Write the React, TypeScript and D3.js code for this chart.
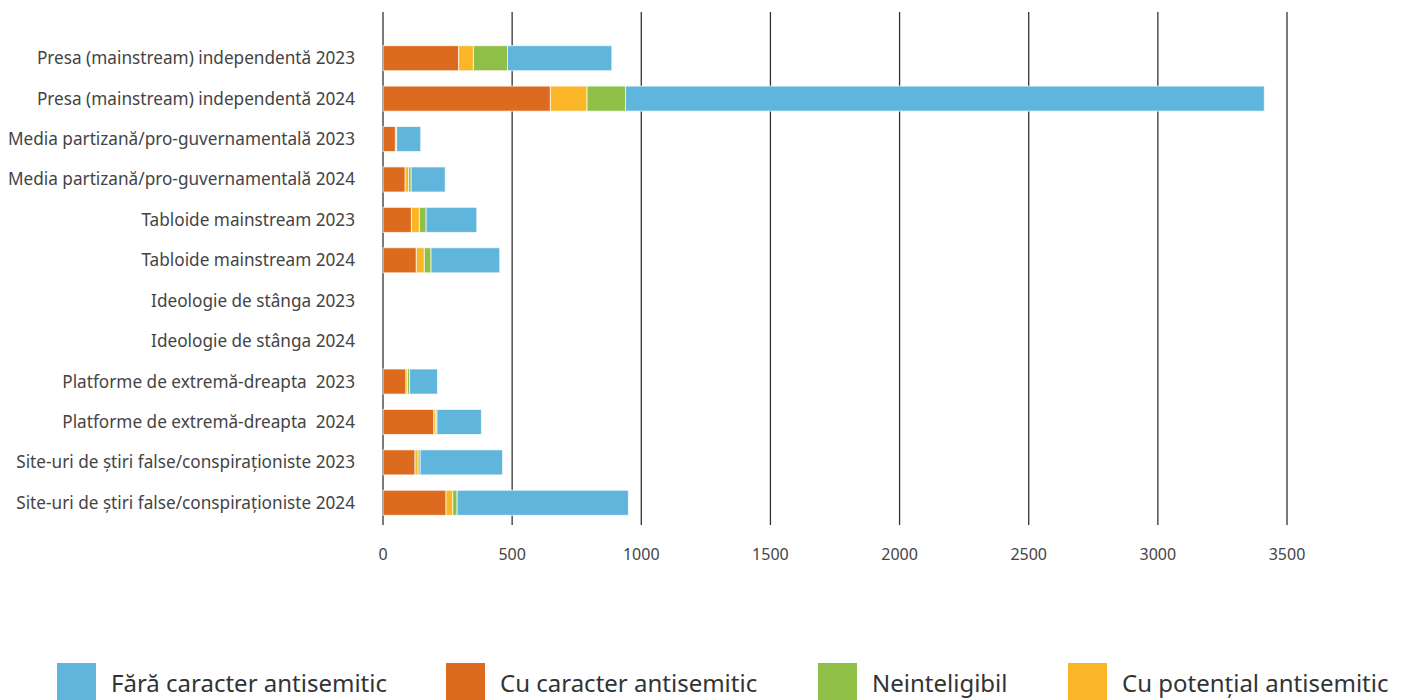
import React from 'react';
import * as d3 from 'd3';

const categories = [
  'Presa (mainstream) independentă 2023',
  'Presa (mainstream) independentă 2024',
  'Media partizană/pro-guvernamentală 2023',
  'Media partizană/pro-guvernamentală 2024',
  'Tabloide mainstream 2023',
  'Tabloide mainstream 2024',
  'Ideologie de stânga 2023',
  'Ideologie de stânga 2024',
  'Platforme de extremă-dreapta  2023',
  'Platforme de extremă-dreapta  2024',
  'Site-uri de știri false/conspiraționiste 2023',
  'Site-uri de știri false/conspiraționiste 2024',
];

// series, in stacking order (left to right)
const cuCaracter = [293, 648, 48, 86, 110, 129, 0, 0, 89, 197, 124, 244];
const cuPotential = [57, 142, 5, 13, 31, 31, 0, 0, 6, 8, 12, 26];
const neinteligibil = [132, 149, 0, 10, 26, 26, 0, 0, 8, 4, 8, 17];
const faraCaracter = [404, 2473, 93, 132, 196, 266, 0, 0, 108, 172, 319, 663];

const xTicks = [0, 500, 1000, 1500, 2000, 2500, 3000, 3500];

const seriesKeys = ['cu', 'pot', 'nei', 'fara'] as const;
const seriesColors: Record<string, string> = {
  cu: '#DC6A1F',
  pot: '#FBB627',
  nei: '#8FBF47',
  fara: '#60B5DD',
};

const legendItems = [
  { key: 'fara', label: 'Fără caracter antisemitic', x: 57 },
  { key: 'cu', label: 'Cu caracter antisemitic', x: 446 },
  { key: 'nei', label: 'Neinteligibil', x: 818 },
  { key: 'pot', label: 'Cu potențial antisemitic', x: 1068 },
];

const font = '"Noto Sans", Lato, sans-serif';

export default function App() {
  const width = 1408;
  const height = 700;

  const rows = categories.map((c, i) => ({
    name: c,
    cu: cuCaracter[i],
    pot: cuPotential[i],
    nei: neinteligibil[i],
    fara: faraCaracter[i],
  }));

  const x = d3.scaleLinear().domain([0, 3500]).range([383, 1287]);
  const y = d3
    .scaleBand()
    .domain(categories)
    .range([38, 523])
    .paddingInner(0.38)
    .paddingOuter(0.19);

  const stacked = d3.stack<any>().keys(seriesKeys as unknown as string[])(rows);

  return (
    <svg
      width={width}
      height={height}
      style={{ position: 'absolute', left: 0, top: 0, background: '#fff' }}
    >
      {/* vertical grid lines */}
      {xTicks.map(t => (
        <line
          key={t}
          x1={x(t)}
          x2={x(t)}
          y1={12}
          y2={525}
          stroke="#333"
          strokeWidth={1.3}
        />
      ))}

      {/* bars */}
      {stacked.map(s => (
        <g key={s.key} fill={seriesColors[s.key]}>
          {s.map((d, i) =>
            d[1] - d[0] > 0 ? (
              <rect
                key={i}
                x={x(d[0])}
                y={y(categories[i])}
                width={x(d[1]) - x(d[0])}
                height={y.bandwidth()}
                stroke="#fff"
                strokeOpacity={0.7}
                strokeWidth={1}
              />
            ) : null
          )}
        </g>
      ))}

      {/* category labels */}
      {categories.map(c => (
        <text
          key={c}
          x={355}
          y={y(c)! + y.bandwidth() / 2}
          dy="0.35em"
          textAnchor="end"
          fontFamily={font}
          fontSize={17.2}
          fill="#444"
          style={{ whiteSpace: 'pre' }}
        >
          {c}
        </text>
      ))}

      {/* x tick labels */}
      {xTicks.map(t => (
        <text
          key={t}
          x={x(t)}
          y={560}
          textAnchor="middle"
          fontFamily={font}
          fontSize={16}
          fill="#444"
        >
          {t}
        </text>
      ))}

      {/* legend */}
      {legendItems.map(l => (
        <g key={l.key}>
          <rect x={l.x} y={663} width={39} height={40} fill={seriesColors[l.key]} />
          <text
            x={l.x + 54}
            y={692}
            fontFamily={font}
            fontSize={24}
            fill="#333"
          >
            {l.label}
          </text>
        </g>
      ))}
    </svg>
  );
}
